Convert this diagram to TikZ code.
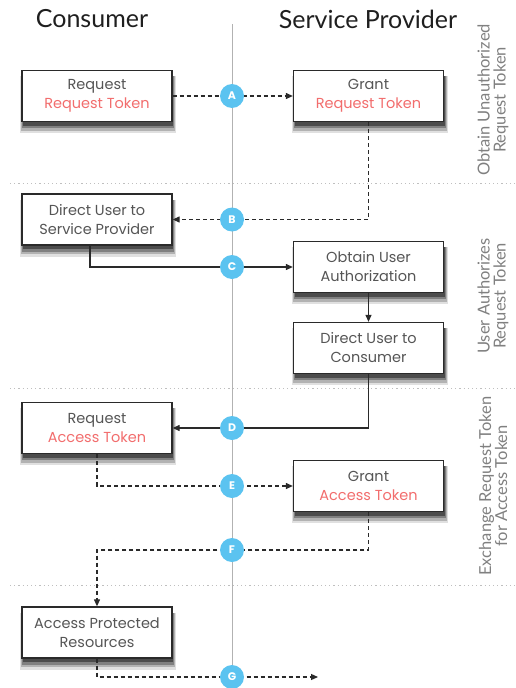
\documentclass[tikz,border=0pt]{standalone}
\usepackage{fontspec}
\setmainfont{Poppins}
\newfontfamily\latofont{Lato}
\usetikzlibrary{arrows.meta,calc,backgrounds}
\definecolor{tokred}{HTML}{F26D6D}
\definecolor{stepblue}{HTML}{5BC3F0}
\definecolor{boxtext}{HTML}{555555}
\definecolor{linecol}{HTML}{2A2A2A}
\begin{document}
\begin{tikzpicture}[x=1pt,y=-1pt,
 box/.style={draw=linecol, line width=1.3pt, fill=white, minimum width=150pt, minimum height=51pt, inner sep=0pt, align=center, font=\fontsize{14.5}{19}\selectfont, text=boxtext},
 badge/.style={circle, fill=stepblue, text=white, minimum size=24pt, inner sep=0pt, font=\bfseries\fontsize{11}{11}\selectfont},
 flow/.style={draw=linecol, line width=1.2pt, -{Triangle[length=7pt,width=6pt]}},
 flowdash/.style={flow, dash pattern=on 4pt off 3pt},
 sep/.style={draw=black!25, line width=1pt, dash pattern=on 1.2pt off 3pt},
 lane/.style={draw=black!30, line width=0.8pt},
 side/.style={rotate=90, align=center, text=black!50, font=\latofont\fontsize{16.5}{16}\selectfont},
 title/.style={font=\latofont\fontsize{25}{25}\selectfont, text=black!88},
 shadeA/.style={fill=black!12},
 shadeB/.style={fill=black!30},
 shadeC/.style={fill=black!50},
 shadeD/.style={fill=black!70}
]
\useasboundingbox (0,0) rectangle (515,688);
% titles
\node[title] (tc) at (92,19) {Consumer};
\node[title] (tsp) at (368,19) {Service Provider};
% lane line and separators
\coordinate (laneTop) at (232,24);
\coordinate (laneBot) at (232,688);
\draw[lane] (laneTop) -- (laneBot);
\coordinate (s1a) at (10,183); \coordinate (s1b) at (515,183);
\coordinate (s2a) at (10,388); \coordinate (s2b) at (515,388);
\coordinate (s3a) at (10,585); \coordinate (s3b) at (515,585);
\draw[sep] (s1a) -- (s1b);
\draw[sep] (s2a) -- (s2b);
\draw[sep] (s3a) -- (s3b);
% side labels
\node[side] (l1) at (493,100) {Obtain Unauthorized\\Request Token};
\node[side] (l2) at (493,296) {User Authorizes\\Request Token};
\node[side] (l3) at (493,486) {Exchange Request Token\\for Access Token};
% shadow placeholders are drawn first, boxes on top
\foreach \cx/\cy in {97/96, 368.5/96, 97/219.5, 368.5/267, 368.5/348, 97/428, 368.5/486, 97/632.5}{
  \fill[shadeA] (\cx-77,\cy-20) rectangle (\cx+79,\cy+37);
  \fill[shadeB] (\cx-76,\cy-20) rectangle (\cx+78,\cy+34.5);
  \fill[shadeC] (\cx-75,\cy-20) rectangle (\cx+77,\cy+32);
  \fill[shadeD] (\cx-74,\cy-20) rectangle (\cx+76,\cy+29.5);
}
% boxes
\node[box] (b1) at (97,96) {Request\\\textcolor{tokred}{Request Token}};
\node[box] (b2) at (368.5,96) {Grant\\\textcolor{tokred}{Request Token}};
\node[box] (b3) at (97,219.5) {Direct User to\\Service Provider};
\node[box] (b4) at (368.5,267) {Obtain User\\Authorization};
\node[box] (b5) at (368.5,348) {Direct User to\\Consumer};
\node[box] (b6) at (97,428) {Request\\\textcolor{tokred}{Access Token}};
\node[box] (b7) at (368.5,486) {Grant\\\textcolor{tokred}{Access Token}};
\node[box] (b8) at (97,632.5) {Access Protected\\Resources};
% connectors
\coordinate (fturn) at (97,550);
\coordinate (gend) at (318,677);
\draw[flowdash] (b1.east) -- (b2.west);
\draw[flowdash] (b2.south) |- (b3.east);
\draw[flow] ([xshift=-7pt]b3.south) |- (b4.west);
\draw[flow] (b4.south) -- (b5.north);
\draw[flow] (b5.south) |- (b6.east);
\draw[flowdash] (b6.south) |- (b7.west);
\draw[flowdash] (b7.south) |- (fturn) -- (b8.north);
\draw[flowdash] (b8.south) |- (gend);
% badges
\node[badge] (A) at (232,96) {A};
\node[badge] (B) at (232,219.5) {B};
\node[badge] (C) at (232,267) {C};
\node[badge] (D) at (232,428) {D};
\node[badge] (E) at (232,486) {E};
\node[badge] (F) at (232,550) {F};
\node[badge] (G) at (232,677) {G};
\end{tikzpicture}
\end{document}
